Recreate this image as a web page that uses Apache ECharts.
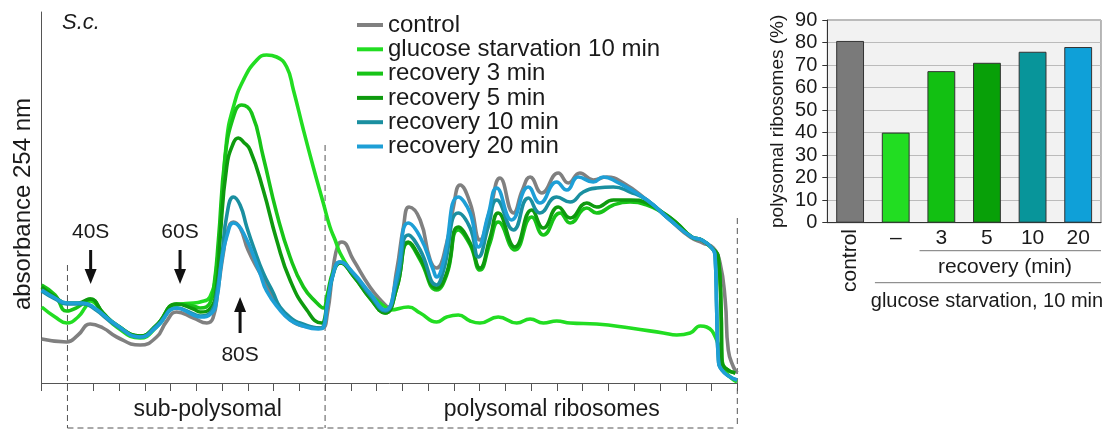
<!DOCTYPE html>
<html>
<head>
<meta charset="utf-8">
<script src="https://cdn.jsdelivr.net/npm/echarts@6/dist/echarts.min.js"></script>
<style>
  html, body { margin: 0; padding: 0; background: #fff; }
  #chart { width: 1109px; height: 430px; }
</style>
</head>
<body>
<div id="chart"></div>
<script>
// profile traces: [fraction position, absorbance (a.u.)]
var controlTrace = [[0, 44], [0.97, 41], [1.41, 48], [1.88, 59], [2.38, 55], [2.91, 46], [3.82, 38], [4.46, 46], [4.83, 61], [5.24, 71], [5.89, 65], [6.41, 60], [6.65, 65], [6.84, 93], [7.04, 128], [7.23, 153], [7.44, 161], [7.70, 155], [8.01, 133], [8.47, 110], [9.12, 80], [9.77, 61], [10.42, 56], [10.88, 55], [11.08, 68], [11.32, 116], [11.50, 138], [11.65, 141], [12.10, 123], [12.74, 96], [13.26, 80], [13.45, 76], [13.78, 113], [14.04, 156], [14.26, 176], [14.69, 163], [15.08, 123], [15.33, 115], [15.72, 140], [15.98, 176], [16.24, 198], [16.63, 180], [17.01, 143], [17.40, 173], [17.79, 205], [18.31, 170], [18.66, 193], [18.96, 206], [19.41, 190], [20.05, 210], [20.44, 200], [20.89, 210], [21.41, 203], [21.93, 206], [22.58, 200], [23.49, 183], [24.39, 163], [25.17, 146], [25.67, 140], [26.07, 135], [26.33, 120], [26.53, 83], [26.65, 33], [26.85, 16], [27, 10]];
var starvTrace = [[0, 76], [0.52, 66], [0.97, 60], [1.41, 66], [1.70, 76], [1.88, 82], [2.38, 70], [2.91, 56], [3.82, 45], [4.46, 56], [5.24, 78], [5.89, 80], [6.15, 81], [6.53, 86], [6.79, 116], [6.99, 176], [7.18, 243], [7.44, 276], [7.83, 303], [8.35, 323], [8.73, 328], [9.12, 326], [9.51, 316], [9.77, 293], [10.16, 253], [10.54, 216], [10.93, 180], [11.19, 156], [11.39, 143], [11.58, 130], [11.97, 113], [12.48, 96], [13.00, 83], [13.33, 76], [13.52, 73], [14.23, 76], [14.69, 70], [15.33, 61], [15.72, 66], [16.17, 68], [16.63, 62], [17.01, 60], [17.72, 66], [18.44, 60], [18.96, 64], [19.47, 60], [19.99, 62], [20.51, 60], [21.54, 59], [22.84, 55], [24.13, 50], [24.65, 48], [25.17, 50], [25.56, 57], [25.81, 56], [26.20, 43], [26.40, 23], [26.58, 10], [26.99, 1]];
var rec3Trace = [[0, 98], [0.52, 88], [0.97, 72], [1.41, 76], [1.88, 84], [2.38, 70], [2.91, 58], [3.82, 47], [4.46, 58], [5.24, 79], [5.89, 77], [6.15, 75], [6.53, 80], [6.70, 100], [6.86, 143], [7.12, 226], [7.44, 266], [7.76, 278], [8.15, 270], [8.60, 226], [9.12, 170], [9.64, 126], [10.16, 96], [10.68, 80], [10.93, 75], [11.08, 88], [11.32, 112], [11.58, 120], [12.10, 107], [12.74, 85], [13.33, 70], [13.78, 95], [14.23, 140], [14.69, 123], [15.33, 93], [15.72, 108], [16.17, 153], [16.63, 138], [17.01, 113], [17.40, 140], [17.72, 161], [18.37, 133], [19.02, 166], [19.47, 148], [20.12, 170], [20.51, 160], [21.16, 175], [21.54, 170], [22.19, 178], [22.84, 181], [23.49, 178], [24.13, 170], [24.65, 160], [25.23, 146], [25.62, 143], [26.01, 135], [26.26, 126], [26.37, 73], [26.40, 23], [26.53, 15], [26.92, 10]];
var rec5Trace = [[0, 96], [0.52, 86], [0.97, 80], [1.41, 80], [1.88, 84], [2.38, 70], [2.91, 58], [3.82, 47], [4.46, 58], [5.24, 79], [5.89, 74], [6.15, 71], [6.53, 74], [6.79, 95], [6.92, 143], [7.18, 216], [7.44, 240], [7.63, 245], [7.83, 241], [8.09, 233], [8.60, 193], [9.12, 143], [9.64, 103], [10.29, 73], [10.87, 60], [10.95, 61], [11.08, 80], [11.32, 110], [11.58, 120], [12.10, 107], [12.74, 85], [13.33, 70], [13.78, 95], [14.23, 141], [14.69, 125], [15.33, 95], [15.72, 110], [16.17, 156], [16.63, 140], [17.01, 115], [17.40, 145], [17.72, 170], [18.37, 136], [19.02, 173], [19.47, 155], [20.05, 176], [20.51, 165], [21.16, 180], [21.54, 176], [22.19, 183], [22.84, 183], [23.49, 180], [24.13, 170], [24.65, 160], [25.23, 146], [25.62, 143], [26.01, 135], [26.26, 126], [26.37, 73], [26.40, 23], [26.53, 15], [26.92, 10]];
var rec10Trace = [[0, 92], [0.52, 84], [0.97, 79], [1.61, 79], [2.0, 75], [2.91, 57], [3.82, 46], [4.46, 57], [5.24, 75], [5.89, 69], [6.15, 67], [6.60, 72], [6.79, 90], [6.99, 126], [7.20, 170], [7.44, 186], [7.70, 178], [7.96, 156], [8.22, 136], [8.60, 110], [8.99, 90], [9.25, 76], [9.77, 63], [10.03, 60], [10.80, 55], [10.92, 56], [11.08, 78], [11.32, 109], [11.58, 121], [12.10, 109], [12.74, 88], [13.33, 72], [13.78, 100], [14.23, 148], [14.69, 133], [15.33, 98], [15.59, 112], [16.17, 170], [16.63, 155], [16.95, 126], [17.33, 156], [17.66, 183], [18.31, 153], [18.89, 185], [19.34, 170], [19.99, 186], [20.51, 181], [21.02, 191], [21.54, 195], [22.19, 196], [22.84, 191], [23.49, 183], [24.39, 163], [25.23, 146], [25.62, 143], [26.01, 135], [26.14, 126], [26.20, 73], [26.26, 26], [26.40, 13], [26.99, 3]];
var rec20Trace = [[0, 93], [0.52, 85], [0.97, 80], [1.61, 80], [2.0, 76], [2.91, 58], [3.82, 46], [4.46, 56], [5.24, 75], [5.89, 68], [6.15, 66], [6.60, 70], [6.79, 83], [6.99, 123], [7.20, 148], [7.44, 160], [7.83, 150], [8.47, 110], [8.73, 92], [9.25, 73], [9.64, 63], [10.03, 58], [10.74, 54], [10.92, 55], [11.08, 78], [11.32, 110], [11.58, 121], [12.10, 110], [12.74, 90], [13.33, 73], [13.78, 106], [14.23, 160], [14.69, 146], [15.20, 113], [15.33, 106], [15.59, 121], [16.17, 186], [16.63, 170], [16.95, 136], [17.33, 168], [17.66, 195], [18.24, 163], [18.89, 196], [19.34, 180], [19.99, 201], [20.38, 193], [20.83, 206], [21.41, 201], [21.80, 206], [22.32, 201], [23.49, 183], [24.39, 163], [25.23, 146], [25.62, 143], [26.01, 135], [26.14, 126], [26.20, 73], [26.26, 26], [26.40, 13], [26.99, 3]];

var traceNames = ['control', 'glucose starvation 10 min', 'recovery 3 min', 'recovery 5 min', 'recovery 10 min', 'recovery 20 min'];
var traces = [controlTrace, starvTrace, rec3Trace, rec5Trace, rec10Trace, rec20Trace];

// bar panel
var barCategories = ['control', '–', '3', '5', '10', '20'];
var barValues = [80.7, 40, 67.3, 71, 75.9, 78];

var lineColors = ['#808080', '#22dd22', '#18c418', '#0e9a0e', '#1a8fa0', '#1e9fd6'];
var barColors = ['#7a7a7a', '#22dd22', '#12c012', '#08a008', '#08959a', '#0fa0d8'];
var font = 'Liberation Sans, Arial, sans-serif';
var ink = '#1a1a1a';

var chart = echarts.init(document.getElementById('chart'));

var series = traces.map(function (t, i) {
  return {
    type: 'line',
    name: traceNames[i],
    xAxisIndex: 0,
    yAxisIndex: 0,
    data: t,
    smooth: 0.5,
    symbol: 'none',
    color: lineColors[i],
    lineStyle: { width: 3.6, color: lineColors[i] },
    z: 2 + i
  }
})

series.push({
  type: 'bar',
  name: 'polysomal',
  xAxisIndex: 1,
  yAxisIndex: 1,
  barWidth: '61%',
  itemStyle: { borderColor: '#333', borderWidth: 1 },
  data: barValues.map(function (v, i) {
    return { value: v, itemStyle: { color: barColors[i] } }
  })
})

chart.setOption({
  animation: false,
  textStyle: { fontFamily: font, color: ink },
  legend: {
    orient: 'vertical',
    left: 352,
    top: 8,
    itemWidth: 26,
    itemHeight: 4,
    itemGap: 0.3,
    icon: 'rect',
    data: traceNames,
    textStyle: { fontSize: 24, color: ink, lineHeight: 24, padding: [0, 0, 0, 0] }
  },
  grid: [
    { left: 41.7, top: 12, width: 695.6, height: 371 },
    { left: 827.3, top: 20, width: 273.7, height: 202.7, show: true, backgroundColor: '#f2f2f2', borderColor: '#777', borderWidth: 1 }
  ],
  xAxis: [
    {
      type: 'value', gridIndex: 0, min: 0, max: 27, interval: 1,
      axisLine: { lineStyle: { color: '#555' } },
      axisTick: { length: 8, lineStyle: { color: '#555' } },
      axisLabel: { show: false },
      splitLine: { show: false }
    },
    {
      type: 'category', gridIndex: 1, data: barCategories,
      axisLine: { lineStyle: { color: '#333' } },
      axisTick: { length: 7, lineStyle: { color: '#333' } },
      axisLabel: {
        fontSize: 21, color: ink, margin: 5,
        formatter: function (v) { return v === 'control' ? '' : v }
      }
    }
  ],
  yAxis: [
    {
      type: 'value', gridIndex: 0, min: 0, max: 371,
      axisLine: { show: true, lineStyle: { color: '#555' } },
      axisTick: { show: false },
      axisLabel: { show: false },
      splitLine: { show: false }
    },
    {
      type: 'value', gridIndex: 1, min: 0, max: 90, interval: 10,
      axisLine: { show: true, lineStyle: { color: '#333' } },
      axisTick: { show: true, length: 5, lineStyle: { color: '#333' } },
      axisLabel: { fontSize: 20, color: ink, margin: 10 },
      splitLine: { lineStyle: { color: '#bbb' } },
      name: 'polysomal ribosomes (%)',
      nameLocation: 'middle',
      nameGap: 40,
      nameTextStyle: { fontSize: 19, color: ink }
    }
  ],
  series: series
})

// annotations placed through the axes
function px (x, y) {
  return chart.convertToPixel({ gridIndex: 0 }, [x, y])
}

var dash = { stroke: '#555', lineWidth: 1, lineDash: [6, 4] }
var regionBounds = [[1, 118], [11, 238], [27, 165]]
var g = []

regionBounds.forEach(function (b) {
  var a = px(b[0], b[1]), c = px(b[0], -45)
  g.push({ type: 'line', shape: { x1: a[0], y1: a[1], x2: c[0], y2: c[1] }, style: dash, silent: true })
})
var hl = px(1, -45), hr = px(27, -45)
g.push({ type: 'line', shape: { x1: hl[0], y1: hl[1], x2: hr[0], y2: hr[1] }, style: dash })

function text (x, y, str, size, extra) {
  var el = {
    type: 'text', x: x, y: y,
    style: { text: str, font: size + 'px ' + font, fill: ink, align: 'center', verticalAlign: 'middle' }
  }
  if (extra) {
    for (var k in extra) el[k] = extra[k]
  }
  return el
}

var p = px(6.44, -27)
g.push(text(p[0], p[1], 'sub-polysomal', 23))
p = px(19.8, -27)
g.push(text(p[0], p[1], 'polysomal ribosomes', 23))

g.push(text(23, 204, 'absorbance 254 nm', 24, { rotation: Math.PI / 2 }))
g.push({
  type: 'text', x: 62, y: 23,
  style: { text: 'S.c.', font: 'italic 22px ' + font, fill: ink, align: 'left', verticalAlign: 'middle' }
})

// peak arrows: [position, label value, tail value, tip value, label]
var peaks = [[1.9, 151, 133, 99, '40S'], [5.37, 151, 133, 99, '60S'], [7.7, 28, 50, 86, '80S']]
peaks.forEach(function (pk) {
  var lab = px(pk[0], pk[1]), tail = px(pk[0], pk[2]), tip = px(pk[0], pk[3])
  var dir = tip[1] > tail[1] ? 1 : -1
  var base = tip[1] - dir * 15
  g.push({ type: 'line', shape: { x1: tail[0], y1: tail[1], x2: tip[0], y2: base }, style: { stroke: '#111', lineWidth: 3 } })
  g.push({ type: 'polygon', shape: { points: [[tip[0], tip[1]], [tip[0] - 6, base], [tip[0] + 6, base]] }, style: { fill: '#111' } })
  g.push(text(lab[0], lab[1], pk[4], 21))
})

// bar panel labels and brackets
var c0 = chart.convertToPixel({ xAxisIndex: 1 }, 'control')
var c1 = chart.convertToPixel({ xAxisIndex: 1 }, '–')
var band = c1 - c0
var right = chart.convertToPixel({ xAxisIndex: 1 }, '20') + band / 2
g.push(text(c0, 229, 'control', 21, { rotation: Math.PI / 2 }))
g[g.length - 1].style.align = 'right'

var recStart = c1 + band / 2
g.push({ type: 'line', shape: { x1: recStart + 1, y1: 250.7, x2: right, y2: 250.7 }, style: { stroke: '#777', lineWidth: 1 } })
g.push(text(1005, 267, 'recovery (min)', 21))
var stStart = c0 + band / 2
g.push({ type: 'line', shape: { x1: stStart + 2, y1: 282.7, x2: right, y2: 282.7 }, style: { stroke: '#777', lineWidth: 1 } })
g.push(text((stStart + right) / 2, 301.7, 'glucose starvation, 10 min', 20))

chart.setOption({ graphic: g })
</script>
</body>
</html>
